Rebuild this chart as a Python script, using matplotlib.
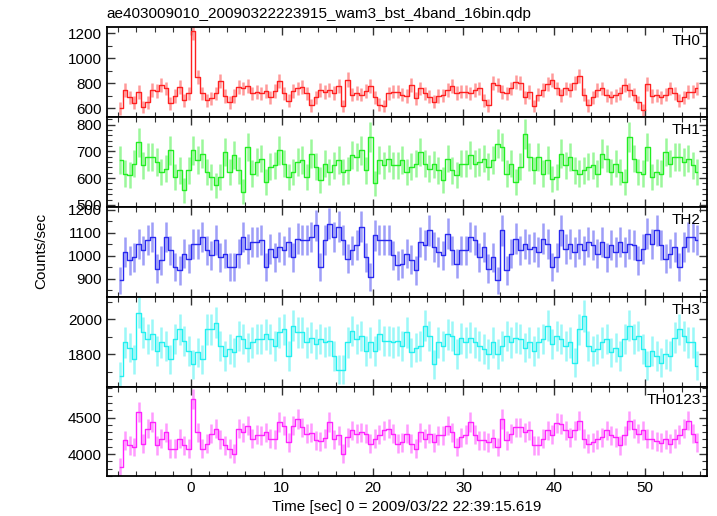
import numpy as np
import matplotlib
matplotlib.use("Agg")
from matplotlib import pyplot as plt
from matplotlib.ticker import MultipleLocator

plt.rcParams['font.family'] = ['Liberation Sans', 'DejaVu Sans']

# light curves, 0.5 s bins, time of first bin centre = -7.75 s
binsize = 0.5
t_start = -7.75
# error bars in the qdp file come from the native 0.25 s exposure
exposure = 0.25

th0 = [600, 745, 690, 645, 730, 610, 650, 750, 740, 785, 760, 640, 700, 770, 665, 720,
       1220, 850, 720, 665, 680, 720, 820, 700, 650, 700, 770, 760, 780, 720, 730, 720,
       740, 690, 740, 820, 720, 660, 740, 760, 770, 720, 625, 690, 745, 730, 750, 725,
       780, 620, 830, 710, 725, 710, 740, 780, 690, 630, 620, 720, 735, 735, 710, 700,
       785, 680, 760, 720, 695, 655, 700, 705, 745, 780, 725, 735, 735, 720, 745, 760,
       665, 625, 800, 790, 730, 720, 760, 810, 800, 690, 730, 620, 710, 745, 795, 825,
       760, 705, 760, 750, 800, 860, 710, 625, 690, 745, 760, 705, 690, 705, 720, 790,
       750, 710, 650, 590, 795, 700, 705, 690, 710, 760, 720, 660, 690, 730, 735, 760]

th1 = [667, 617, 611, 654, 735, 648, 679, 679, 661, 623, 636, 704, 605, 629, 555, 629,
       704, 667, 692, 623, 605, 573, 605, 698, 623, 685, 629, 549, 717, 617, 661, 673,
       586, 642, 648, 704, 654, 605, 623, 661, 667, 605, 692, 642, 592, 654, 623, 648,
       667, 623, 629, 685, 679, 704, 629, 754, 580, 667, 648, 673, 648, 648, 667, 623,
       642, 654, 698, 654, 636, 652, 629, 592, 673, 629, 611, 654, 654, 685, 654, 661,
       673, 642, 667, 729, 717, 617, 654, 586, 642, 766, 679, 629, 679, 617, 667, 598,
       605, 692, 648, 679, 629, 617, 629, 642, 648, 617, 692, 673, 623, 654, 623, 586,
       754, 673, 623, 617, 717, 605, 623, 617, 698, 654, 679, 679, 661, 673, 648, 623]

th2 = [893, 1016, 980, 994, 1052, 1023, 1067, 1080, 944, 980, 1081, 1023, 951, 936, 1009, 987,
       1052, 1052, 1081, 1023, 1001, 1067, 994, 1009, 951, 951, 1009, 1081, 1030, 1059, 1059, 1067,
       951, 1030, 994, 1038, 1023, 1059, 994, 1074, 1067, 1067, 1081, 1132, 951, 1067, 1139, 1081,
       1125, 1067, 987, 1023, 1045, 1125, 994, 907, 1088, 1067, 1067, 1067, 1001, 958, 965, 1009,
       983, 936, 1059, 1045, 1110, 1038, 1016, 1001, 1096, 1023, 965, 1023, 1023, 1081, 1067, 994,
       1038, 944, 994, 893, 1110, 936, 1009, 1074, 1023, 1052, 1030, 1038, 1016, 1074, 1052, 951,
       994, 1110, 1030, 1052, 1016, 1052, 1023, 1059, 1045, 1009, 1059, 994, 1045, 1016, 1059, 1016,
       1052, 1045, 980, 1030, 1096, 1052, 1110, 1045, 987, 1009, 1038, 951, 1038, 1081, 1081, 1067]

th3 = [1676, 1867, 1838, 1771, 2038, 1924, 1886, 1914, 1819, 1867, 1848, 1771, 1886, 1943, 1876, 1819,
       1743, 1810, 1771, 1943, 1943, 1981, 1848, 1790, 1829, 1810, 1905, 1886, 1838, 1867, 1886, 1886,
       1914, 1886, 1848, 1924, 1943, 1790, 1962, 1924, 1924, 1867, 1895, 1857, 1886, 1870, 1876, 1790,
       1710, 1710, 1867, 1933, 1886, 1905, 1819, 1867, 1819, 1914, 1876, 1876, 1867, 1876, 1848, 1924,
       1810, 1838, 1848, 1962, 1905, 1743, 1867, 1848, 1914, 1905, 1800, 1890, 1867, 1895, 1867, 1848,
       1829, 1800, 1867, 1800, 1848, 1905, 1867, 1895, 1886, 1838, 1867, 1819, 1867, 1886, 1962, 1857,
       1905, 1886, 1848, 1867, 1752, 1943, 2019, 1848, 1819, 1829, 1867, 1886, 1810, 1838, 1790, 1886,
       1962, 1886, 1905, 1829, 1733, 1819, 1790, 1752, 1800, 1790, 1895, 1943, 1905, 1867, 1867, 1733]

th0123 = [3823, 4186, 4118, 4095, 4573, 4141, 4345, 4436, 4118, 4209, 4300, 4073, 4073, 4209, 4118, 4073,
          4755, 4300, 4073, 4141, 4277, 4345, 4200, 4118, 4073, 4005, 4345, 4300, 4391, 4209, 4264, 4255,
          4300, 4209, 4200, 4436, 4391, 4164, 4391, 4482, 4368, 4277, 4291, 4186, 4173, 4218, 4436, 4200,
          4255, 4005, 4232, 4323, 4277, 4300, 4277, 4141, 4209, 4264, 4323, 4345, 4277, 4141, 4164, 4277,
          4141, 4073, 4300, 4209, 4277, 4164, 4255, 4255, 4391, 4300, 4095, 4232, 4264, 4436, 4264, 4186,
          4186, 4164, 4218, 4095, 4482, 4186, 4277, 4368, 4368, 4300, 4323, 4118, 4118, 4209, 4323, 4264,
          4427, 4414, 4323, 4232, 4323, 4459, 4209, 4141, 4164, 4200, 4232, 4323, 4255, 4232, 4118, 4255,
          4459, 4345, 4277, 4323, 4209, 4200, 4173, 4155, 4200, 4141, 4209, 4264, 4345, 4459, 4277, 4164]

names = ['TH0', 'TH1', 'TH2', 'TH3', 'TH0123']
series = [th0, th1, th2, th3, th0123]
colors = ['#ff2020', '#22ee22', '#2828f0', '#22f0f0', '#ff22ff']
ylims = [(530, 1248), (492, 828), (822, 1211), (1614, 2128), (3693, 4923)]
ymajor = [200, 100, 100, 200, 500]
yminor = [100, 20, 50, 100, 100]

fig = plt.figure(figsize=(7.17, 5.16), dpi=100)
fig.subplots_adjust(left=0.1488, right=0.986, bottom=0.0766, top=0.947, hspace=0)
axes = fig.subplots(5, 1, sharex=True)

for ax, name, y, c, yl, ymaj, ymin in zip(axes, names, series, colors, ylims, ymajor, yminor):
    y = np.array(y, dtype=float)
    t = t_start + binsize * np.arange(len(y))
    err = np.sqrt(y / exposure)
    ax.errorbar(t, y, yerr=err, fmt='none', ecolor=c, elinewidth=1.8, alpha=0.45)
    ax.step(t, y, where='mid', color=c, lw=1.0)
    ax.set_ylim(*yl)
    ax.set_xlim(-9.27, 56.8)
    ax.yaxis.set_major_locator(MultipleLocator(ymaj))
    ax.yaxis.set_minor_locator(MultipleLocator(ymin))
    ax.xaxis.set_major_locator(MultipleLocator(10))
    ax.xaxis.set_minor_locator(MultipleLocator(2))
    ax.tick_params(which='both', direction='in', top=True, right=True, labelsize=11, color='#333333')
    ax.tick_params(which='major', length=6, width=1.0)
    ax.tick_params(which='minor', length=3.5, width=0.8)
    for s in ax.spines.values():
        s.set_linewidth(1.3)
    ax.text(0.99, 0.93, name, transform=ax.transAxes, ha='right', va='top', fontsize=11)

axes[0].set_title('ae403009010_20090322223915_wam3_bst_4band_16bin.qdp', loc='left', fontsize=11, pad=7)
axes[-1].set_xlabel('Time [sec] 0 = 2009/03/22 22:39:15.619', fontsize=11, labelpad=3)
fig.text(0.058, 0.513, 'Counts/sec', rotation=90, ha='center', va='center', fontsize=11)

fig.savefig('out.png', dpi=100)
